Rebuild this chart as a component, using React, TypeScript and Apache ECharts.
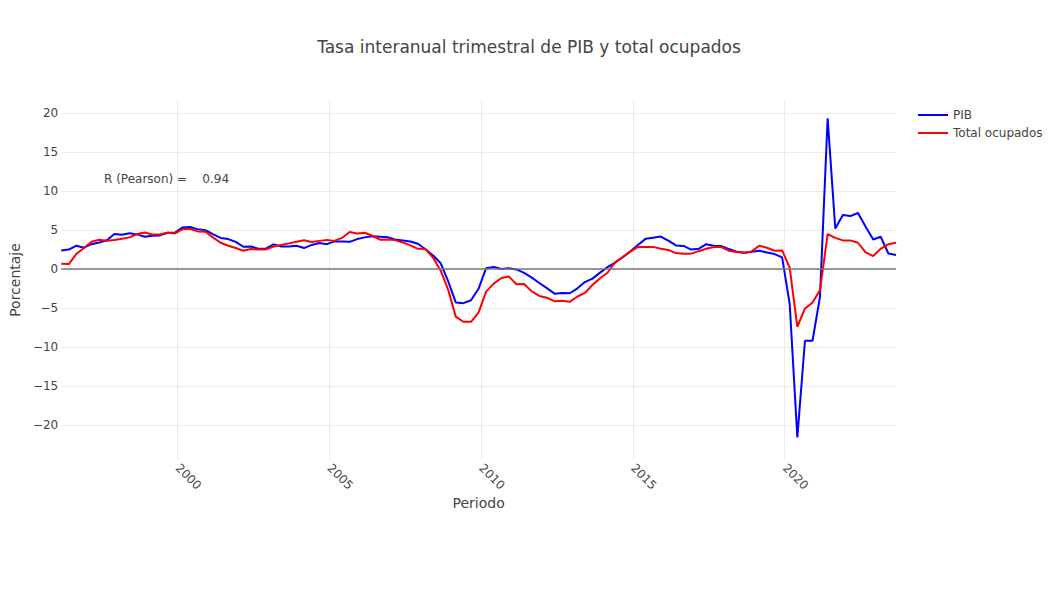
import React, { useEffect, useRef } from "react";
import * as echarts from "echarts";

const startYear = 1996;

const pib = [
  2.4, 2.5, 3.0, 2.75, 3.2, 3.4, 3.7, 4.5, 4.4, 4.6,
  4.45, 4.15, 4.28, 4.32, 4.67, 4.7, 5.35, 5.4, 5.1, 5.0,
  4.5, 4.0, 3.85, 3.5, 2.87, 2.9, 2.6, 2.65, 3.17, 2.9,
  2.9, 3.0, 2.7, 3.1, 3.35, 3.2, 3.55, 3.55, 3.5, 3.85,
  4.07, 4.2, 4.15, 4.1, 3.8, 3.68, 3.55, 3.25, 2.55, 1.75,
  0.75, -1.6, -4.28, -4.37, -4.0, -2.5, 0.12, 0.28, 0.02, 0.11,
  -0.04, -0.48, -1.1, -1.78, -2.45, -3.15, -3.06, -3.1, -2.5, -1.67,
  -1.22, -0.45, 0.25, 0.83, 1.55, 2.3, 3.08, 3.88, 4.03, 4.18,
  3.66, 3.04, 2.97, 2.5, 2.6, 3.2, 3.0, 2.95, 2.57, 2.22,
  2.1, 2.22, 2.35, 2.14, 1.93, 1.5, -4.5, -21.6, -9.2, -9.2,
  -3.55, 19.35, 5.2, 6.93, 6.8, 7.2, 5.44, 3.8, 4.15, 2.0,
  1.8,
];

const ocupados = [
  0.68, 0.64, 1.97, 2.7, 3.5, 3.77, 3.64, 3.72, 3.9, 4.07,
  4.5, 4.7, 4.45, 4.45, 4.67, 4.58, 5.14, 5.14, 4.84, 4.8,
  4.07, 3.38, 3.0, 2.7, 2.35, 2.57, 2.53, 2.53, 2.9, 3.1,
  3.3, 3.5, 3.7, 3.47, 3.62, 3.75, 3.62, 4.0, 4.75, 4.58,
  4.67, 4.28, 3.77, 3.8, 3.72, 3.42, 3.04, 2.6, 2.57, 1.45,
  -0.2, -2.7, -6.1, -6.76, -6.76, -5.56, -2.9, -1.86, -1.15, -0.96,
  -1.95, -1.92, -2.86, -3.45, -3.68, -4.12, -4.05, -4.2, -3.55, -3.06,
  -2.05, -1.17, -0.47, 0.9, 1.52, 2.25, 2.85, 2.85, 2.85, 2.62,
  2.46, 2.05, 1.98, 1.98, 2.3, 2.6, 2.83, 2.83, 2.35, 2.18,
  2.1, 2.27, 3.0, 2.74, 2.35, 2.4, 0.17, -7.4, -5.05, -4.3,
  -2.7, 4.5, 4.0, 3.68, 3.68, 3.38, 2.14, 1.67, 2.6, 3.2,
  3.38,
];

const xTicks = [2000, 2005, 2010, 2015, 2020];
const yTicks = [-20, -15, -10, -5, 0, 5, 10, 15, 20];

const periods = pib.map((_, i) => {
  const y = startYear + Math.floor(i / 4);
  const m = 3 * (i % 4) + 3;
  return `${y}-${String(m).padStart(2, "0")}-01`;
});

function toYearFrac(s: string): number {
  const [y, m, d] = s.split("-").map(Number);
  const t0 = Date.UTC(y, 0, 1);
  const t1 = Date.UTC(y + 1, 0, 1);
  return y + (Date.UTC(y, m - 1, d) - t0) / (t1 - t0);
}

const FONT = "'DejaVu Sans', Verdana, sans-serif";
const TEXT = "#444";
const GRID = "#ebebeb";

export default function App() {
  const ref = useRef<HTMLDivElement>(null);

  useEffect(() => {
    if (!ref.current) return;
    const chart = echarts.init(ref.current, undefined, { renderer: "svg" });
    const xs = periods.map(toYearFrac);
    const pibData = pib.map((v, i) => [xs[i], v]);
    const ocuData = ocupados.map((v, i) => [xs[i], v]);

    chart.setOption({
      animation: false,
      backgroundColor: "#fff",
      textStyle: { fontFamily: FONT },
      title: {
        text: "Tasa interanual trimestral de PIB y total ocupados",
        left: "center",
        top: 33,
        textStyle: { fontFamily: FONT, fontSize: 17, fontWeight: "normal", color: TEXT },
      },
      legend: {
        orient: "vertical",
        left: 913,
        top: 104,
        itemWidth: 30,
        itemHeight: 2,
        itemGap: 6,
        icon: "rect",
        textStyle: { fontFamily: FONT, fontSize: 12, color: TEXT },
        data: ["PIB", "Total ocupados"],
      },
      grid: { left: 60, right: 162, top: 100, bottom: 145, containLabel: false },
      xAxis: {
        type: "value",
        min: xs[0],
        max: xs[xs.length - 1],
        name: "Periodo",
        nameLocation: "middle",
        nameGap: 36,
        nameMoveOverlap: false,
        nameTextStyle: { fontFamily: FONT, fontSize: 14, color: TEXT },
        axisLine: { show: false },
        axisTick: { show: false, customValues: xTicks },
        axisLabel: {
          customValues: xTicks,
          rotate: -45,
          margin: 6,
          fontFamily: FONT,
          fontSize: 12,
          color: TEXT,
          formatter: (v: number) => String(Math.round(v)),
        },
        splitLine: { show: true, lineStyle: { color: GRID, width: 1 } },
      },
      yAxis: {
        type: "value",
        min: -24.5,
        max: 21.7,
        name: "Porcentaje",
        nameLocation: "middle",
        nameGap: 33,
        nameTextStyle: { fontFamily: FONT, fontSize: 14, color: TEXT },
        axisLine: { show: false },
        axisTick: { show: false, customValues: yTicks },
        axisLabel: {
          customValues: yTicks,
          margin: 3,
          fontFamily: FONT,
          fontSize: 12,
          color: TEXT,
          formatter: (v: number) => (v < 0 ? "\u2212" + Math.abs(v) : String(v)),
        },
        splitLine: { show: true, lineStyle: { color: GRID, width: 1 } },
      },
      series: [
        {
          name: "PIB",
          type: "line",
          data: pibData,
          showSymbol: false,
          symbol: "none",
          lineStyle: { color: "#0000ff", width: 2 },
          itemStyle: { color: "#0000ff" },
          z: 3,
          markLine: {
            silent: true,
            symbol: "none",
            label: { show: false },
            lineStyle: { color: "#777", width: 1.5, type: "solid" },
            data: [{ yAxis: 0 }],
          },
        },
        {
          name: "Total ocupados",
          type: "line",
          data: ocuData,
          showSymbol: false,
          symbol: "none",
          lineStyle: { color: "#ff0000", width: 2 },
          itemStyle: { color: "#ff0000" },
          z: 3,
        },
      ],
      graphic: [
        {
          type: "text",
          left: 104,
          top: 173,
          style: {
            text: "R (Pearson) =    0.94",
            fontFamily: FONT,
            fontSize: 12,
            fill: TEXT,
          },
        },
      ],
    });

    return () => chart.dispose();
  }, []);

  return (
    <div
      ref={ref}
      style={{ position: "fixed", left: 0, top: 0, width: 1058, height: 605, background: "#fff" }}
    />
  );
}
